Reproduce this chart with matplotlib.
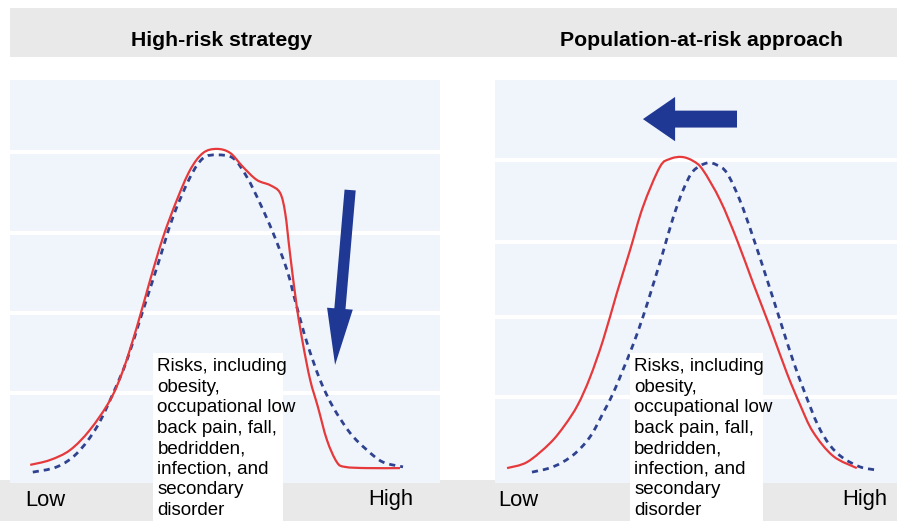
import matplotlib
matplotlib.use("Agg")
import matplotlib.pyplot as plt
import numpy as np
from matplotlib.patches import Rectangle, PathPatch
from matplotlib.path import Path

plt.rcParams['font.family'] = ['Liberation Sans', 'DejaVu Sans']

# risk level (0-100 across each panel) and share of population (0-100)
titles = ["High-risk strategy", "Population-at-risk approach"]
risk_text = ("Risks, including\nobesity,\noccupational low\nback pain, fall,\n"
             "bedridden,\ninfection, and\nsecondary\ndisorder")
axis_labels = ["Low", "High"]

# high-risk strategy: before (dashed) and after (solid)
hr_before_x = [5.3, 10.9, 15.6, 20.2, 24.0, 27.2, 30.2, 34.2, 37.9, 41.9, 44.9, 48.1,
               51.9, 55.1, 58.1, 61.2, 64.4, 66.7, 69.1, 72.1, 75.1, 79.1, 83.0, 86.7, 91.4]
hr_before_y = [2.7, 4.0, 7.4, 13.9, 22.3, 30.5, 40.4, 53.6, 66.0, 75.9, 80.6, 81.4,
               80.6, 75.9, 69.5, 62.0, 52.9, 43.7, 34.7, 25.6, 18.9, 12.4, 8.2, 5.2, 4.0]
hr_after_x = [4.7, 9.3, 14.0, 18.6, 23.3, 26.3, 29.5, 32.6, 35.6, 38.8, 41.9, 44.9, 48.1,
              51.2, 54.2, 57.4, 60.5, 62.8, 64.0, 65.1, 66.7, 68.1, 69.8, 71.6, 73.7,
              76.0, 77.9, 83.0, 90.7]
hr_after_y = [4.5, 5.7, 8.2, 13.2, 20.6, 28.0, 38.7, 50.4, 61.0, 70.2, 77.7, 81.9, 82.9,
              81.9, 78.4, 75.2, 73.9, 72.0, 67.0, 57.1, 43.7, 34.7, 25.6, 18.9, 10.7,
              5.2, 4.0, 3.7, 3.7]

# population approach: before (dashed) and after (solid)
pop_before_x = [9.2, 14.4, 19.4, 23.6, 26.9, 29.4, 31.8, 34.3, 36.8, 39.3, 41.8, 44.3,
                46.8, 49.3, 52.7, 55.2, 57.7, 60.9, 64.2, 67.7, 70.9, 74.1, 77.1, 80.3,
                83.3, 86.6, 90.8, 95.0]
pop_before_y = [2.7, 4.0, 6.9, 11.4, 17.4, 22.3, 28.0, 34.2, 41.2, 49.1, 57.3, 65.8,
                72.7, 77.4, 79.4, 78.9, 76.9, 70.2, 61.0, 50.4, 40.4, 30.5, 22.3, 14.4,
                9.4, 6.2, 4.0, 3.2]
pop_after_x = [3.0, 8.0, 13.7, 17.4, 20.6, 23.6, 26.9, 30.3, 33.6, 36.8, 41.0, 43.5,
               46.5, 49.3, 51.7, 56.0, 60.2, 64.2, 68.4, 72.6, 75.9, 79.1, 84.1, 90.0]
pop_after_y = [3.7, 5.2, 9.9, 14.4, 19.4, 26.1, 35.5, 47.1, 57.8, 68.5, 78.4, 80.4,
               80.9, 79.9, 77.7, 70.2, 60.3, 49.6, 38.7, 27.3, 19.4, 12.7, 6.7, 3.7]

RED = '#e5393b'
BLUE = '#2f4290'
ARROW = '#1f3894'
PANEL = '#f0f5fb'
BAND = '#e9e9e9'

W, H = 897, 521
fig = plt.figure(figsize=(W / 100, H / 100), dpi=100)

# background layer in pixel units for the grey bands and titles
bg = fig.add_axes([0, 0, 1, 1], zorder=-1)
bg.set_xlim(0, W)
bg.set_ylim(H, 0)
bg.axis('off')
bg.add_patch(Rectangle((10, 8), W - 10, 49, color=BAND, lw=0))
bg.add_patch(Rectangle((0, 480), W, H - 480, color=BAND, lw=0))
bg.text(222, 41, titles[0], fontsize=15.3, fontweight='bold', ha='center', va='center')
bg.text(702, 41, titles[1], fontsize=15.3, fontweight='bold', ha='center', va='center')
for x0, x1 in [(25, 413), (498, 887)]:
    bg.text(x0, 500, axis_labels[0], fontsize=15.8, ha='left', va='center')
    bg.text(x1, 500, axis_labels[1], fontsize=15.8, ha='right', va='center')


def smooth_line(ax, xs, ys, **kw):
    # curve through the read points (Catmull-Rom as cubic Bezier segments)
    pts = np.column_stack([xs, ys])
    n = len(pts)
    verts = [pts[0]]
    codes = [Path.MOVETO]
    for i in range(n - 1):
        p0 = pts[max(i - 1, 0)]
        p1, p2 = pts[i], pts[i + 1]
        p3 = pts[min(i + 2, n - 1)]
        verts += [p1 + (p2 - p0) / 6, p2 - (p3 - p1) / 6, p2]
        codes += [Path.CURVE4] * 3
    ax.add_patch(PathPatch(Path(verts, codes), fill=False, **kw))


def panel(rect, stripes, box, before_x, before_y, after_x, after_y):
    ax = fig.add_axes([rect[0] / W, 1 - rect[3] / H, (rect[2] - rect[0]) / W,
                       (rect[3] - rect[1]) / H])
    ax.set_xlim(0, 100)
    ax.set_ylim(0, 100)
    ax.set_facecolor(PANEL)
    for s in ax.spines.values():
        s.set_visible(False)
    ax.set_xticks([])
    ax.set_yticks([])
    for y in stripes:
        ax.axhline(y, color='white', lw=3, zorder=1)
    smooth_line(ax, before_x, before_y, edgecolor=BLUE, lw=2.0,
                linestyle=(0, (2.2, 1.8)), zorder=3)
    smooth_line(ax, after_x, after_y, edgecolor=RED, lw=1.6, zorder=4)
    # white label box running down into the bottom band
    ax.add_patch(Rectangle((box[0], -12), box[1] - box[0], 44.3, facecolor='white',
                           edgecolor='none', zorder=5, clip_on=False))
    ax.text(box[0] + 1.0, 31.0, risk_text, fontsize=13.5, ha='left', va='top',
            linespacing=1.27, zorder=6, clip_on=False)
    return ax


ax1 = panel((10, 80, 440, 483), [82.1, 62.0, 42.2, 22.3], (33.3, 63.5),
            hr_before_x, hr_before_y, hr_after_x, hr_after_y)
ax1.arrow(79.1, 72.7, -3.5, -43.4, width=2.6, head_width=6.0, head_length=14,
          length_includes_head=True, color=ARROW, lw=0, zorder=7)

ax2 = panel((495, 80, 897, 483), [80.1, 59.8, 41.2, 21.3], (33.6, 66.7),
            pop_before_x, pop_before_y, pop_after_x, pop_after_y)
ax2.arrow(60.2, 90.3, -23.4, 0, width=4.2, head_width=11, head_length=8,
          length_includes_head=True, color=ARROW, lw=0, zorder=7)

fig.savefig('out.png', dpi=100)
